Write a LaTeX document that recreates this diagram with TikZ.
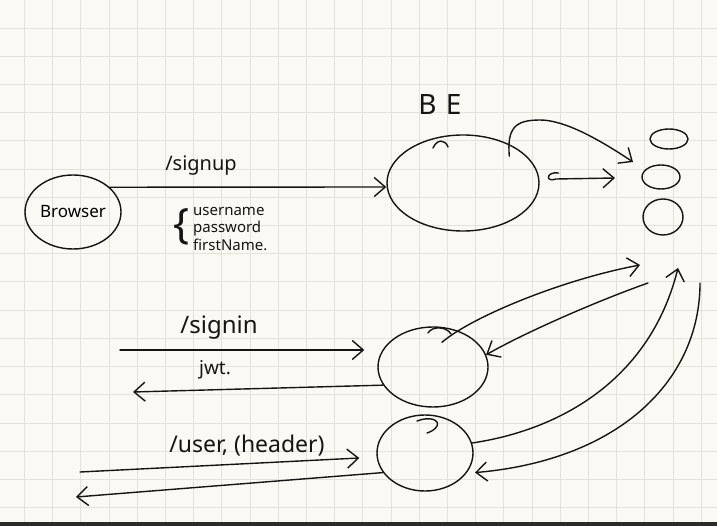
\documentclass[tikz,border=0pt]{standalone}
\usepackage{fontspec}
\setmainfont{Noto Sans}
\usetikzlibrary{shapes.geometric,arrows.meta}
\definecolor{paper}{HTML}{FBF9F3}
\definecolor{gridc}{HTML}{E5E2DB}
\definecolor{ink}{HTML}{151515}
\definecolor{band}{HTML}{2B2B2B}
\begin{document}
\begin{tikzpicture}[x=1pt,y=-1pt,
  inkline/.style={draw=ink,line width=1.4pt,line cap=round,line join=round},
  blob/.style={ellipse,draw=ink,line width=1.4pt,inner sep=0pt},
  flow/.style={inkline,-{Straight Barb[length=11pt,width=19pt]}},
  hand/.style={text=ink,inner sep=0pt},
  lbl/.style={hand,font=\fontsize{20}{22}\selectfont}]
\useasboundingbox (0,0) rectangle (717,526);
\fill[paper] (0,0) rectangle (717,526);
\foreach \i in {0,...,24} \draw[gridc,line width=1pt] ({24.5+28.2*\i},0) -- ({24.5+28.2*\i},526);
\foreach \j in {1,...,18} \draw[gridc,line width=1pt] (0,{28.2*\j}) -- (717,{28.2*\j});
\fill[band] (0,522) rectangle (717,526);

% nodes
\node[blob,minimum width=96pt,minimum height=74pt] (browser) at (73,212) {\fontsize{17}{19}\selectfont Browser};
\node[blob,minimum width=152pt,minimum height=96pt] (be) at (463,183) {};
\node[hand,font=\fontsize{28}{30}\selectfont] (belabel) at (440,105) {B\,\,E};
\node[blob,minimum width=38pt,minimum height=20pt] (db1) at (669,139) {};
\node[blob,minimum width=38pt,minimum height=24pt] (db2) at (661,177) {};
\node[blob,minimum width=40pt,minimum height=36pt] (db3) at (663,217) {};
\node[blob,minimum width=110pt,minimum height=80pt] (auth) at (433,367) {};
\node[blob,minimum width=96pt,minimum height=76pt] (usr) at (425,453) {};

% labels
\node[lbl] (signup) at (201,166) {/signup};
\node[hand,font=\fontsize{42}{42}\selectfont] (brace) at (181,227) {\{};
\node[hand,font=\fontsize{15}{17.5}\selectfont,align=left,anchor=north west] (payload) at (193,207) {username\\ password\\ firstName.};
\node[lbl,font=\fontsize{24}{26}\selectfont] (signin) at (219,328) {/signin};
\node[lbl,font=\fontsize{19}{21}\selectfont] (jwt) at (215,370) {jwt.};
\node[lbl,font=\fontsize{23}{25}\selectfont] (userhdr) at (247,446) {/user, (header)};

% free ends
\coordinate (t1) at (633,162);
\coordinate (t2) at (615,178);
\coordinate (t3) at (640,265);
\coordinate (t4) at (648,283);
\coordinate (t5) at (678,268);
\coordinate (t6) at (700,283);
\coordinate (s1) at (120,350);
\coordinate (s2) at (133,392);
\coordinate (s3) at (80,472);
\coordinate (s4) at (76,497);

% connectors
\draw[flow] (browser.34) -- ([yshift=-4pt]be.west);
\draw[flow] ([yshift=-12pt]be.40) .. controls (507,128) and (515,120) .. (540,120) .. controls (565,120) and (600,140) .. (t1);
\draw[flow] ([xshift=19pt,yshift=10pt]be.east) .. controls (546,171) and (545,183) .. (556,179) -- (t2);
\draw[flow] (s1) -- ([xshift=-13pt,yshift=17pt]auth.west);
\draw[flow] (auth.200) -- (s2);
\draw[flow] (s3) -- ([xshift=-17pt,yshift=-5pt]usr.west);
\draw[flow] (usr.205) -- (s4);
\draw[flow] ([xshift=9pt,yshift=-16pt]auth.north) .. controls (470,318) and (560,280) .. (t3);
\draw[flow] (t4) .. controls (600,300) and (530,330) .. (auth.13);
\draw[flow] (usr.12) .. controls (560,430) and (650,380) .. (t5);
\draw[flow] (t6) .. controls (700,380) and (620,460) .. ([xshift=8pt]usr.-25);

% small pen ticks
\draw[inkline] (433,148) .. controls (437,139) and (445,139) .. (448,147);
\draw[inkline] (428,333) .. controls (432,326) and (446,326) .. (451,334);
\draw[inkline] (417,421) .. controls (430,416) and (440,420) .. (437,426) .. controls (435,430) and (430,432) .. (427,433);
\end{tikzpicture}
\end{document}
